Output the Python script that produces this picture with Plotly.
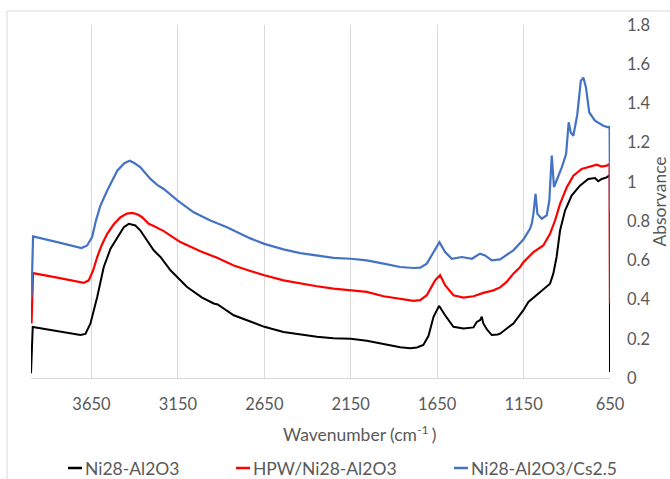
import plotly.graph_objects as go

# FTIR spectra: wavenumber (cm-1) and absorbance for each sample
ni28_wn = [4000, 3990, 3920, 3848, 3770, 3714, 3685, 3656, 3617, 3579, 3540, 3501, 3463,
           3434, 3396, 3367, 3328, 3290, 3251, 3193, 3097, 3010, 2943, 2920, 2827, 2731,
           2650, 2539, 2442, 2346, 2250, 2150, 2057, 1960, 1864, 1806, 1767, 1730, 1700,
           1671, 1639, 1604, 1556, 1498, 1440, 1421, 1402, 1392, 1383, 1360, 1334, 1300,
           1286, 1209, 1151, 1122, 1074, 1036, 997, 978, 959, 939, 910, 872, 824, 776,
           737, 718, 698, 669, 655, 651, 650]
ni28_abs = [0.024, 0.26, 0.25, 0.24, 0.228, 0.219, 0.225, 0.278, 0.413, 0.566, 0.659, 0.718,
            0.769, 0.786, 0.778, 0.752, 0.70, 0.651, 0.617, 0.549, 0.464, 0.41, 0.38, 0.375,
            0.32, 0.286, 0.261, 0.235, 0.222, 0.21, 0.203, 0.20, 0.19, 0.173, 0.157, 0.152,
            0.156, 0.168, 0.215, 0.312, 0.368, 0.32, 0.261, 0.252, 0.258, 0.286, 0.295,
            0.312, 0.278, 0.245, 0.219, 0.222, 0.226, 0.278, 0.346, 0.388, 0.422, 0.45,
            0.481, 0.532, 0.617, 0.752, 0.854, 0.93, 0.981, 1.015, 1.02, 1.003, 1.015,
            1.023, 1.032, 1.035, 0.03]

hpw_wn = [3997, 3988, 3848, 3760, 3695, 3666, 3640, 3617, 3590, 3559, 3520, 3482, 3445,
          3415, 3385, 3357, 3319, 3290, 3232, 3136, 3020, 2923, 2827, 2731, 2650, 2539,
          2442, 2346, 2250, 2150, 2057, 1960, 1864, 1787, 1748, 1710, 1662, 1633, 1604,
          1556, 1498, 1440, 1383, 1325, 1286, 1248, 1209, 1171, 1151, 1113, 1093, 1036,
          997, 968, 939, 900, 862, 814, 766, 727, 698, 669, 652, 650]
hpw_abs = [0.278, 0.535, 0.512, 0.498, 0.485, 0.498, 0.55, 0.617, 0.68, 0.735, 0.785, 0.82,
           0.838, 0.842, 0.835, 0.82, 0.786, 0.775, 0.749, 0.693, 0.646, 0.613, 0.574,
           0.546, 0.524, 0.498, 0.481, 0.468, 0.456, 0.449, 0.439, 0.417, 0.402, 0.393,
           0.397, 0.422, 0.498, 0.524, 0.473, 0.422, 0.41, 0.417, 0.434, 0.447, 0.462,
           0.49, 0.532, 0.565, 0.591, 0.625, 0.642, 0.676, 0.735, 0.803, 0.888, 0.973,
           1.032, 1.066, 1.078, 1.088, 1.078, 1.083, 1.091, 0.38]

cs_wn = [3997, 3988, 3848, 3708, 3675, 3646, 3625, 3600, 3559, 3501, 3460, 3429, 3400,
         3367, 3309, 3270, 3232, 3151, 3059, 2962, 2866, 2731, 2650, 2539, 2442, 2346,
         2250, 2150, 2057, 1960, 1864, 1787, 1748, 1710, 1662, 1637, 1604, 1565, 1507,
         1449, 1402, 1373, 1334, 1286, 1209, 1151, 1113, 1103, 1093, 1081, 1070, 1045,
         1016, 1001, 987, 974, 959, 929, 904, 889, 877, 862, 839, 819, 804, 789, 770,
         737, 689, 660, 652, 650]
cs_abs = [0.413, 0.722, 0.693, 0.663, 0.676, 0.72, 0.80, 0.875, 0.956, 1.057, 1.095,
          1.108, 1.095, 1.074, 1.015, 0.985, 0.964, 0.905, 0.845, 0.803, 0.769, 0.712,
          0.684, 0.656, 0.637, 0.624, 0.613, 0.608, 0.60, 0.583, 0.566, 0.561, 0.563,
          0.583, 0.659, 0.693, 0.642, 0.608, 0.617, 0.608, 0.634, 0.625, 0.60, 0.605,
          0.651, 0.706, 0.761, 0.786, 0.837, 0.939, 0.837, 0.812, 0.829, 0.905, 1.134,
          0.973, 1.007, 1.074, 1.142, 1.304, 1.252, 1.235, 1.345, 1.515, 1.532, 1.481,
          1.354, 1.312, 1.286, 1.278, 1.281, 0.85]

series_names = ["Ni28-Al2O3", "HPW/Ni28-Al2O3", "Ni28-Al2O3/Cs2.5"]
series_colors = ["#000000", "#FF0000", "#4472C4"]

y_ticks = [0, 0.2, 0.4, 0.6, 0.8, 1.0, 1.2, 1.4, 1.6, 1.8]
y_labels = ["0", "0.2", "0.4", "0.6", "0.8", "1", "1.2", "1.4", "1.6", "1.8"]
x_ticks = [3650, 3150, 2650, 2150, 1650, 1150, 650]

W, H = 670, 479
L, R, T, B = 31, 60, 25, 101
PW, PH = W - L - R, H - T - B


def px_x(p):
    return (p - L) / PW


def px_y(p):
    return (H - B - p) / PH


FONT = "Lato, Calibri, sans-serif"
GREY = "#595959"

fig = go.Figure()
data = [(ni28_wn, ni28_abs), (hpw_wn, hpw_abs), (cs_wn, cs_abs)]
for (wn, ab), name, col in zip(data, series_names, series_colors):
    fig.add_trace(go.Scatter(
        x=wn, y=ab, mode="lines", name=name, showlegend=False,
        line=dict(color=col, width=2.2 if col != "#000000" else 2.0),
    ))

# bottom key: short coloured dash followed by the series name
key_left_px = [68, 236, 454]
key_y = px_y(468)
key_shapes, key_texts = [], []
for name, col, xl in zip(series_names, series_colors, key_left_px):
    key_shapes.append(dict(type="line", xref="paper", yref="paper",
                           x0=px_x(xl), x1=px_x(xl + 14), y0=key_y, y1=key_y,
                           line=dict(color=col, width=2.5)))
    key_texts.append(dict(text=name, xref="paper", yref="paper",
                          x=px_x(xl + 15), y=key_y, xanchor="left", yanchor="middle",
                          showarrow=False,
                          font=dict(family=FONT, size=17.5, color=GREY)))

fig.update_layout(
    width=W, height=H,
    margin=dict(l=L, r=R, t=T, b=B, autoexpand=False),
    paper_bgcolor="white", plot_bgcolor="white",
    font=dict(family=FONT, size=16, color=GREY),
    showlegend=False,
    xaxis=dict(
        range=[4000, 650], tickmode="array", tickvals=x_ticks,
        showgrid=True, gridcolor="#D9D9D9", gridwidth=1,
        showline=True, linecolor="#D9D9D9", linewidth=1,
        zeroline=False, ticks="", ticklabelstandoff=11, automargin=False,
        tickfont=dict(family=FONT, size=16.5, color=GREY),
    ),
    yaxis=dict(
        range=[0, 1.8], side="right", tickmode="array",
        tickvals=y_ticks, ticktext=y_labels,
        showgrid=False, zeroline=False, showline=False, ticks="",
        ticklabelstandoff=16, automargin=False,
        tickfont=dict(family=FONT, size=16.5, color=GREY),
        title=dict(text="Absorvance", standoff=2,
                   font=dict(family=FONT, size=17.5, color=GREY)),
    ),
    annotations=[
        dict(text="Wavenumber (cm<sup>-1 </sup>)", xref="paper", yref="paper",
             x=px_x(360), y=px_y(434), xanchor="center", yanchor="middle",
             showarrow=False, font=dict(family=FONT, size=17.5, color=GREY)),
    ] + key_texts,
    shapes=[
        dict(type="line", xref="paper", yref="paper", x0=px_x(7), x1=px_x(671),
             y0=px_y(11), y1=px_y(11), line=dict(color="#D9D9D9", width=1)),
        dict(type="line", xref="paper", yref="paper", x0=px_x(7), x1=px_x(7),
             y0=px_y(11), y1=px_y(480), line=dict(color="#D9D9D9", width=1)),
    ] + key_shapes,
)

fig.write_html("out.html")
